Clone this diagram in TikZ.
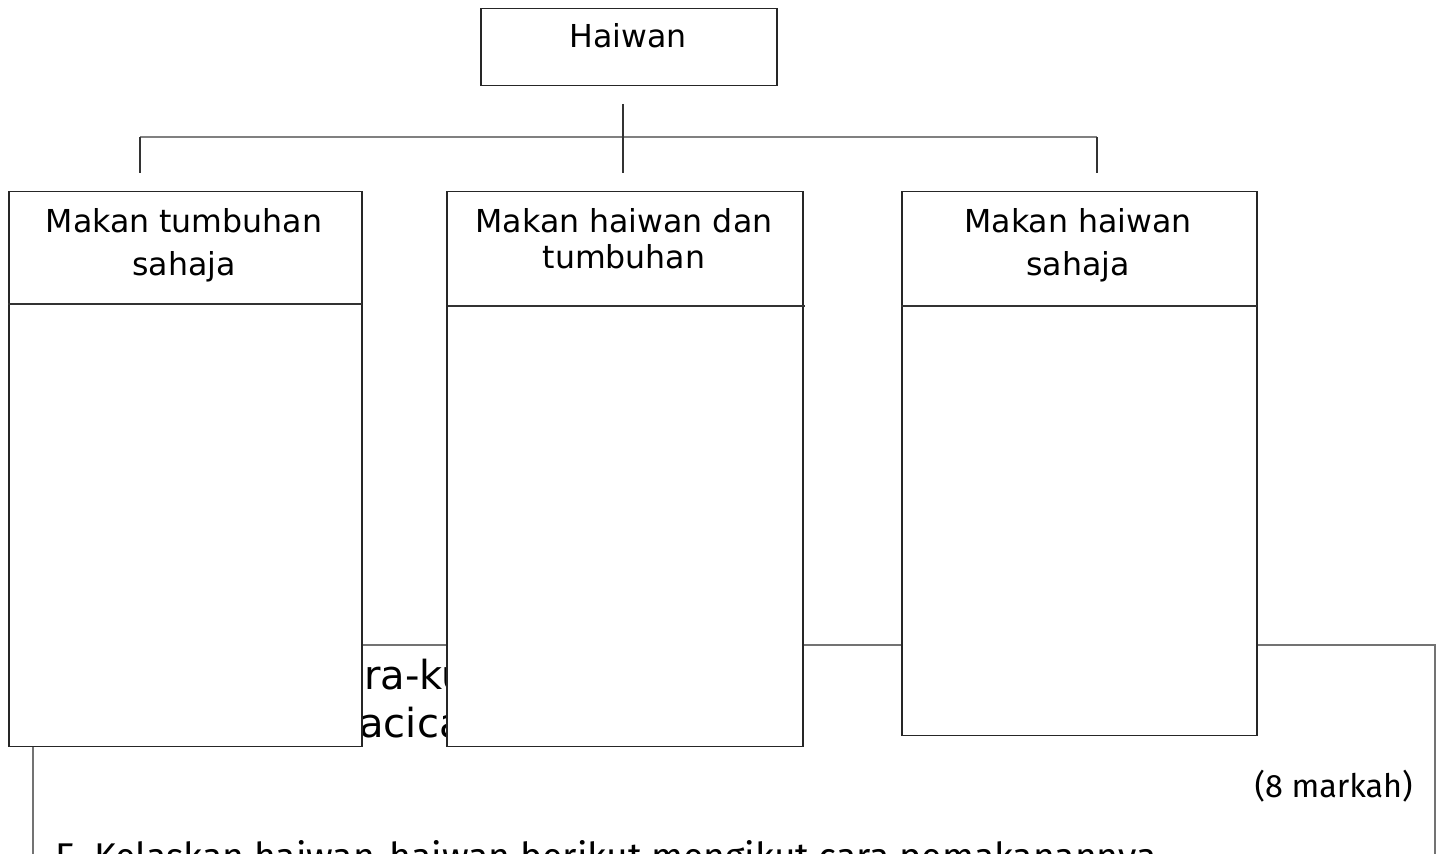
\documentclass[tikz,border=0pt]{standalone}
\usepackage{fontspec}
\setmainfont{DejaVu Sans}
\newfontfamily\soalanfont{Fira Sans}
\tikzset{
	kotak/.style={draw=black!85, line width=0.75pt, fill=white, rectangle, inner sep=0pt},
	tajuk/.style={font=\fontsize{15.8}{21.5}\selectfont, align=center, inner sep=0pt, anchor=north},
	cabang/.style={draw=black!80, line width=0.6pt},
	rentang/.style={draw=black!50, line width=1.1pt},
	bingkai/.style={draw=black!55, line width=0.9pt}
}
\begin{document}
\begin{tikzpicture}[x=0.5pt,y=-0.5pt]
	\useasboundingbox (0,0) rectangle (1446,854);
	% bingkai soalan di belakang
	\draw[bingkai] (33,900) -- (33,645) -- (1435,645) -- (1435,900);
	\node[font=\fontsize{20}{24}\selectfont, anchor=base west, inner sep=0pt] (sisa1) at (364,690) {ra-ku};
	\node[font=\fontsize{20}{24}\selectfont, anchor=base west, inner sep=0pt] (sisa2) at (359,738) {acica};
	\node[font=\soalanfont\fontsize{16.2}{19}\selectfont, anchor=east, inner sep=0pt] (markah) at (1413,786) {(8 markah)};
	\node[font=\soalanfont\fontsize{18.6}{22}\selectfont, anchor=north west, inner sep=0pt] (soalan) at (55,840) {E.\ Kelaskan haiwan-haiwan berikut mengikut cara pemakanannya};
	% kotak utama
	\node[kotak, minimum width=148pt, minimum height=38.5pt, anchor=north west] (haiwan) at (480,8) {};
	\node[tajuk] (thaiwan) at (628,23) {Haiwan};
	% kotak kumpulan
	\node[kotak, minimum width=176.5pt, minimum height=277.5pt, anchor=north west] (herbivor) at (8,191) {};
	\node[kotak, minimum width=178pt, minimum height=277.5pt, anchor=north west] (omnivor) at (446,191) {};
	\node[kotak, minimum width=177.5pt, minimum height=272pt, anchor=north west] (karnivor) at (901,191) {};
	\draw[cabang] (8,304) -- (362,304);
	\draw[cabang] (448,306) -- (805,306);
	\draw[cabang] (901,306) -- (1257,306);
	\node[tajuk] (therbivor) at (184,208) {Makan tumbuhan\\sahaja};
	\node[tajuk, font=\fontsize{15.8}{18}\selectfont] (tomnivor) at (624,208) {Makan haiwan dan\\tumbuhan};
	\node[tajuk] (tkarnivor) at (1078,208) {Makan haiwan\\sahaja};
	% cabang
	\coordinate (pangkal) at (623,104);
	\coordinate (hujung) at (623,173);
	\coordinate (kiri) at (140,137);
	\coordinate (kanan) at (1097,137);
	\coordinate (kirib) at (140,173);
	\coordinate (kananb) at (1097,173);
	\draw[rentang] (kiri) -- (kanan);
	\draw[cabang] (pangkal) -- (hujung);
	\draw[cabang] (kiri) -- (kirib);
	\draw[cabang] (kanan) -- (kananb);
\end{tikzpicture}
\end{document}
